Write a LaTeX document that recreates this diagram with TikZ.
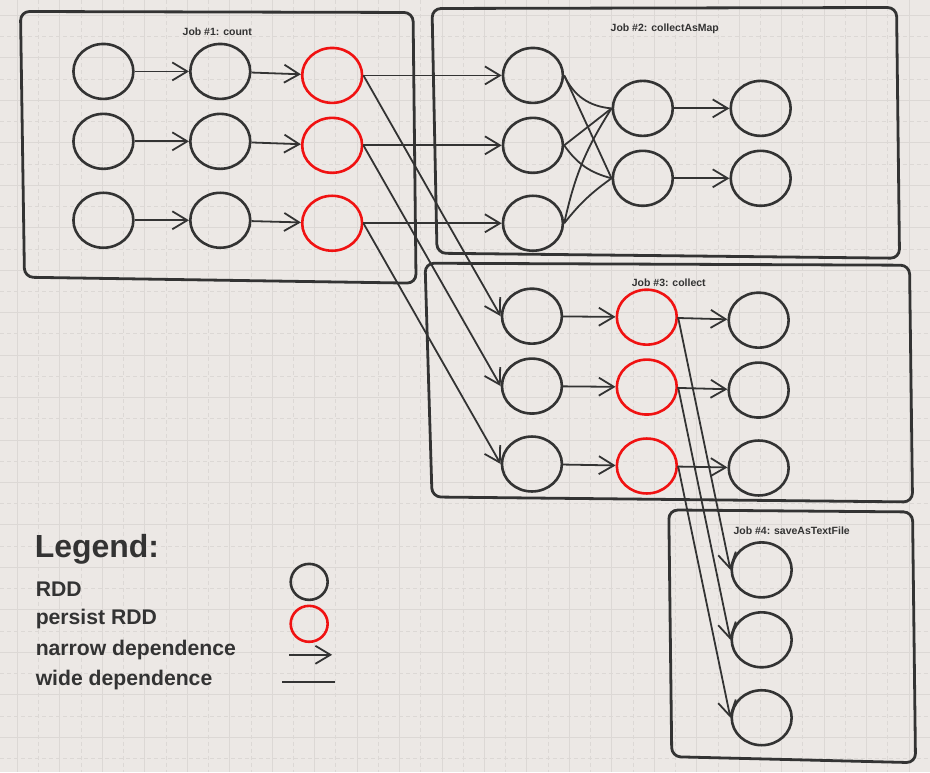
\documentclass[tikz,border=0pt]{standalone}
\usepackage{fontspec}
\setmainfont{Liberation Sans}
\usetikzlibrary{arrows.meta,shapes.geometric}
\definecolor{paper}{HTML}{ECE8E5}
\definecolor{gridline}{HTML}{DCD8D5}
\definecolor{ink}{HTML}{333333}
\definecolor{persist}{HTML}{F01212}

\begin{document}
\begin{tikzpicture}
  [x=1pt,y=-1pt,
   every node/.style={ellipse,draw=ink,line width=2.6pt,minimum width=60pt,minimum height=55pt,inner sep=0pt},
   persisted/.style={draw=persist},
   lbl/.style={rectangle,draw=none,minimum size=0pt,inner sep=1pt,text=ink},
   narrow/.style={ink,line width=1.8pt,-{Straight Barb[length=15pt,width=18pt]}},
   wide/.style={ink,line width=1.8pt},
   jobbox/.style={draw=ink,line width=2.8pt,rounded corners=9pt}]
  % paper and grid
  \fill[paper] (0,0) rectangle (930,772);
  \foreach \x in {38.25,80.75,...,930}
    \draw[gridline,line width=0.8pt,dash pattern=on 4pt off 3pt] (\x,0) -- (\x,772);
  \foreach \y in {36.25,78.75,...,772}
    \draw[gridline,line width=0.8pt,dash pattern=on 4pt off 3pt] (0,\y) -- (930,\y);
  \foreach \x in {17,59.5,...,930}
    \draw[gridline,line width=1pt] (\x,0) -- (\x,772);
  \foreach \y in {15,57.5,...,772}
    \draw[gridline,line width=1pt] (0,\y) -- (930,\y);

  % job boxes
  \draw[jobbox] (20,11) -- (413,12) -- (416,283) -- (24,277) -- cycle;
  \draw[jobbox] (432,8) -- (897,7) -- (900,258) -- (437,253) -- cycle;
  \draw[jobbox] (425,263) -- (910,265) -- (913,502) -- (432,497) -- cycle;
  \draw[jobbox] (669,510) -- (913,512) -- (916,763) -- (672,757) -- cycle;
  \node[lbl,font=\bfseries\fontsize{10.5}{12}\selectfont] (t1) at (217,31) {Job \#1: count};
  \node[lbl,font=\bfseries\fontsize{10.5}{12}\selectfont] (t2) at (665,28) {Job \#2: collectAsMap};
  \node[lbl,font=\bfseries\fontsize{10.5}{12}\selectfont] (t3) at (669,283) {Job \#3: collect};
  \node[lbl,font=\bfseries\fontsize{10.5}{12}\selectfont] (t4) at (792,531) {Job \#4: saveAsTextFile};

  % job 1
  \node (n11) at (103,71)  {};
  \node (n12) at (220,71)  {};
  \node[persisted] (n13) at (332,75)  {};
  \node (n21) at (103,141) {};
  \node (n22) at (220,141) {};
  \node[persisted] (n23) at (332,145) {};
  \node (n31) at (103,220) {};
  \node (n32) at (220,220) {};
  \node[persisted] (n33) at (332,223) {};
  % job 2
  \node (a1) at (533,75)  {};
  \node (a2) at (533,145) {};
  \node (a3) at (533,223) {};
  \node (b1) at (643,108) {};
  \node (b2) at (643,178) {};
  \node (c1) at (761,108) {};
  \node (c2) at (761,178) {};
  % job 3
  \node (d1) at (532,316) {};
  \node (d2) at (532,386) {};
  \node (d3) at (532,464) {};
  \node[persisted] (e1) at (647,317) {};
  \node[persisted] (e2) at (647,387) {};
  \node[persisted] (e3) at (647,466) {};
  \node (f1) at (759,320) {};
  \node (f2) at (759,390) {};
  \node (f3) at (759,468) {};
  % job 4
  \node (g1) at (762,570) {};
  \node (g2) at (762,640) {};
  \node (g3) at (762,718) {};

\foreach \from/\to in
{n11/n12, n12/n13, n21/n22, n22/n23, n31/n32, n32/n33, n13/a1, n23/a2, n33/a3,
 b1/c1, b2/c2, d1/e1, d2/e2, d3/e3, e1/f1, e2/f2, e3/f3}
    \draw[narrow] (\from) -- (\to);
\foreach \from/\to in
{n13/d1, n23/d2, n33/d3, e1/g1, e2/g2, e3/g3}
    \draw[narrow] (\from.east) -- (\to.west);
\foreach \from/\to/\bend in
{a1/b1/-30, a1/b2/0, a2/b1/0, a2/b2/-20, a3/b1/10, a3/b2/8}
    \draw[wide] (\from.east) to[bend left=\bend] (\to.west);

  % legend
  \node[lbl,anchor=west,font=\bfseries\fontsize{32}{38}\selectfont] (legend) at (32,549) {Legend:};
  \node[lbl,anchor=west,font=\bfseries\fontsize{21.2}{25}\selectfont] (lrdd) at (33,589) {RDD};
  \node[lbl,anchor=west,font=\bfseries\fontsize{21.2}{25}\selectfont] (lpersist) at (33,619) {persist RDD};
  \node[lbl,anchor=west,font=\bfseries\fontsize{21.2}{25}\selectfont] (lnarrow) at (33,650) {narrow dependence};
  \node[lbl,anchor=west,font=\bfseries\fontsize{21.2}{25}\selectfont] (lwide) at (33,680) {wide dependence};
  \node[minimum width=37pt,minimum height=36pt] (krdd) at (309,582) {};
  \node[persisted,minimum width=37pt,minimum height=36pt] (kpersist) at (309,624) {};
  \coordinate (knarrowa) at (289,655);
  \coordinate (knarrowb) at (332,655);
  \coordinate (kwidea) at (282,682);
  \coordinate (kwideb) at (335,682);
  \draw[narrow] (knarrowa) -- (knarrowb);
  \draw[wide] (kwidea) -- (kwideb);
\end{tikzpicture}
\end{document}
